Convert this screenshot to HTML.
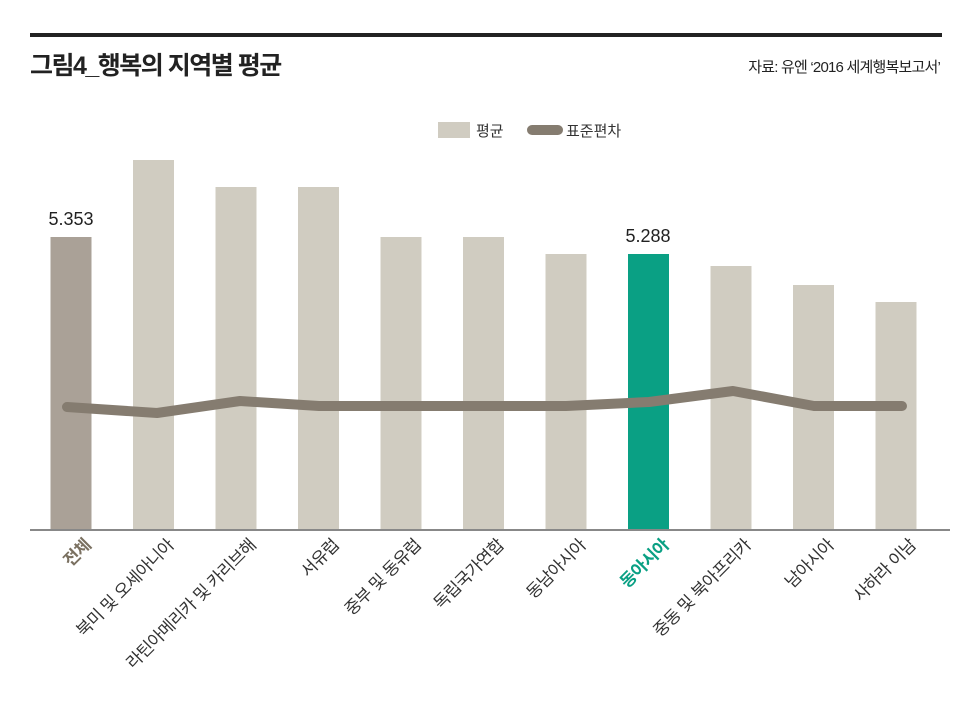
<!DOCTYPE html>
<html><head><meta charset="utf-8"><style>
body{margin:0;background:#fff;width:970px;height:700px;overflow:hidden}
svg text{font-family:"Liberation Sans","Noto Sans CJK KR",sans-serif}
</style></head><body>
<svg width="970" height="700" xmlns="http://www.w3.org/2000/svg">
<rect x="30" y="33" width="912" height="4" fill="#222"/>
<text x="30" y="74" font-size="25" font-weight="bold" fill="#222" letter-spacing="-1.5">그림4_행복의 지역별 평균</text>
<text x="940" y="72" font-size="15" fill="#222" text-anchor="end" letter-spacing="-0.8">자료: 유엔 ‘2016 세계행복보고서’</text>
<rect x="438" y="122" width="32" height="16" fill="#d0ccc1"/>
<text x="476" y="136" font-size="15" fill="#333">평균</text>
<rect x="527" y="125" width="36" height="10" rx="5" fill="#857c70"/>
<text x="566" y="136" font-size="15" fill="#333">표준편차</text>
<g>
<rect x="50.5" y="237" width="41" height="293" fill="#aaa197"/>
<rect x="133" y="160" width="41" height="370" fill="#d0ccc1"/>
<rect x="215.5" y="187" width="41" height="343" fill="#d0ccc1"/>
<rect x="298" y="187" width="41" height="343" fill="#d0ccc1"/>
<rect x="380.5" y="237" width="41" height="293" fill="#d0ccc1"/>
<rect x="463" y="237" width="41" height="293" fill="#d0ccc1"/>
<rect x="545.5" y="254" width="41" height="276" fill="#d0ccc1"/>
<rect x="628" y="254" width="41" height="276" fill="#0aa084"/>
<rect x="710.5" y="266" width="41" height="264" fill="#d0ccc1"/>
<rect x="793" y="285" width="41" height="245" fill="#d0ccc1"/>
<rect x="875.5" y="302" width="41" height="228" fill="#d0ccc1"/>
</g>
<rect x="30" y="529" width="920" height="2" fill="#888"/>
<polyline points="67,407 157,413 240,401 319,406 401,406 484,406 566,406 649,402 733,391 814,406 902,406" fill="none" stroke="#857c70" stroke-width="10" stroke-linecap="round" stroke-linejoin="round"/>
<text x="71" y="225" font-size="18" fill="#222" text-anchor="middle">5.353</text>
<text x="648" y="242" font-size="18" fill="#222" text-anchor="middle">5.288</text>
<g font-size="17" text-anchor="end" fill="#333" letter-spacing="-0.5">
<text transform="translate(92,546) rotate(-45)" fill="#7a7060" font-weight="bold">전체</text>
<text transform="translate(175,546) rotate(-45)">북미 및 오세아니아</text>
<text transform="translate(257,546) rotate(-45)">라틴아메리카 및 카리브해</text>
<text transform="translate(340,546) rotate(-45)">서유럽</text>
<text transform="translate(422,546) rotate(-45)">중부 및 동유럽</text>
<text transform="translate(505,546) rotate(-45)">독립국가연합</text>
<text transform="translate(587,546) rotate(-45)">동남아시아</text>
<text transform="translate(670,546) rotate(-45)" fill="#0aa084" font-weight="bold">동아시아</text>
<text transform="translate(752,546) rotate(-45)">중동 및 북아프리카</text>
<text transform="translate(835,546) rotate(-45)">남아시아</text>
<text transform="translate(917,546) rotate(-45)">사하라 이남</text>
</g>
</svg>
</body></html>
